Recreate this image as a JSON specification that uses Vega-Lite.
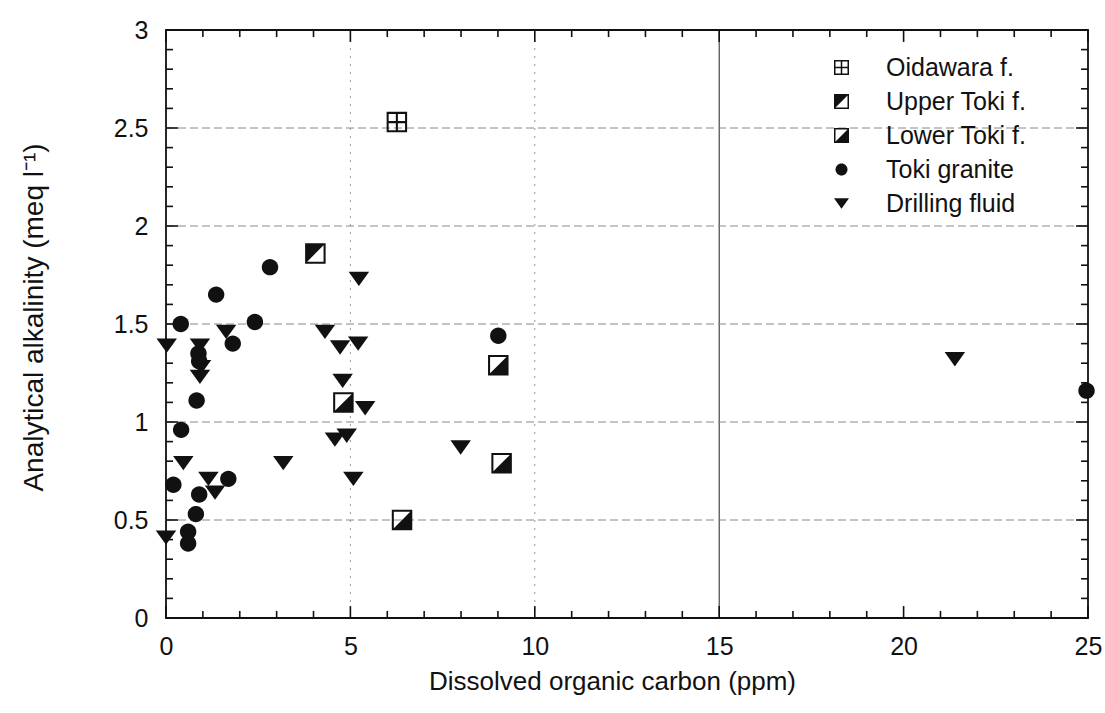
{
  "$schema": "https://vega.github.io/schema/vega-lite/v6.json",
  "width": 922,
  "height": 588,
  "autosize": {"type": "none"},
  "padding": {"left": 166, "top": 30, "right": 17, "bottom": 95},
  "background": "white",
  "config": {
    "view": {"stroke": "#111", "strokeWidth": 1.8},
    "font": "Liberation Sans"
  },
  "datasets": {
    "pts": [
      {"unit": "Oidawara f.", "doc": 6.26, "alk": 2.53},
      {"unit": "Upper Toki f.", "doc": 4.05, "alk": 1.86},
      {"unit": "Lower Toki f.", "doc": 4.81, "alk": 1.10},
      {"unit": "Lower Toki f.", "doc": 9.01, "alk": 1.29},
      {"unit": "Lower Toki f.", "doc": 9.10, "alk": 0.79},
      {"unit": "Lower Toki f.", "doc": 6.40, "alk": 0.50},
      {"unit": "Toki granite", "doc": 2.82, "alk": 1.79},
      {"unit": "Toki granite", "doc": 1.36, "alk": 1.65},
      {"unit": "Toki granite", "doc": 0.40, "alk": 1.50},
      {"unit": "Toki granite", "doc": 2.41, "alk": 1.51},
      {"unit": "Toki granite", "doc": 1.81, "alk": 1.40},
      {"unit": "Toki granite", "doc": 0.88, "alk": 1.35},
      {"unit": "Toki granite", "doc": 0.90, "alk": 1.31},
      {"unit": "Toki granite", "doc": 0.83, "alk": 1.11},
      {"unit": "Toki granite", "doc": 0.41, "alk": 0.96},
      {"unit": "Toki granite", "doc": 1.69, "alk": 0.71},
      {"unit": "Toki granite", "doc": 0.20, "alk": 0.68},
      {"unit": "Toki granite", "doc": 0.90, "alk": 0.63},
      {"unit": "Toki granite", "doc": 0.81, "alk": 0.53},
      {"unit": "Toki granite", "doc": 0.60, "alk": 0.44},
      {"unit": "Toki granite", "doc": 0.60, "alk": 0.38},
      {"unit": "Toki granite", "doc": 9.01, "alk": 1.44},
      {"unit": "Toki granite", "doc": 24.96, "alk": 1.16},
      {"unit": "Drilling fluid", "doc": 5.23, "alk": 1.73},
      {"unit": "Drilling fluid", "doc": 1.63, "alk": 1.46},
      {"unit": "Drilling fluid", "doc": 4.31, "alk": 1.46},
      {"unit": "Drilling fluid", "doc": 4.72, "alk": 1.38},
      {"unit": "Drilling fluid", "doc": 5.21, "alk": 1.40},
      {"unit": "Drilling fluid", "doc": 0.02, "alk": 1.39},
      {"unit": "Drilling fluid", "doc": 0.92, "alk": 1.39},
      {"unit": "Drilling fluid", "doc": 0.95, "alk": 1.28},
      {"unit": "Drilling fluid", "doc": 0.92, "alk": 1.23},
      {"unit": "Drilling fluid", "doc": 4.79, "alk": 1.21},
      {"unit": "Drilling fluid", "doc": 5.40, "alk": 1.07},
      {"unit": "Drilling fluid", "doc": 4.58, "alk": 0.91},
      {"unit": "Drilling fluid", "doc": 4.90, "alk": 0.93},
      {"unit": "Drilling fluid", "doc": 0.47, "alk": 0.79},
      {"unit": "Drilling fluid", "doc": 3.18, "alk": 0.79},
      {"unit": "Drilling fluid", "doc": 1.15, "alk": 0.71},
      {"unit": "Drilling fluid", "doc": 5.08, "alk": 0.71},
      {"unit": "Drilling fluid", "doc": 1.33, "alk": 0.64},
      {"unit": "Drilling fluid", "doc": 0.00, "alk": 0.41},
      {"unit": "Drilling fluid", "doc": 7.99, "alk": 0.87},
      {"unit": "Drilling fluid", "doc": 21.39, "alk": 1.32}
    ],
    "xt": [
      {"v": 0}, {"v": 1}, {"v": 2}, {"v": 3}, {"v": 4}, {"v": 5}, {"v": 6}, {"v": 7}, {"v": 8}, {"v": 9},
      {"v": 10}, {"v": 11}, {"v": 12}, {"v": 13}, {"v": 14}, {"v": 15}, {"v": 16}, {"v": 17}, {"v": 18}, {"v": 19},
      {"v": 20}, {"v": 21}, {"v": 22}, {"v": 23}, {"v": 24}, {"v": 25}
    ],
    "yt": [
      {"v": 0}, {"v": 0.1}, {"v": 0.2}, {"v": 0.3}, {"v": 0.4}, {"v": 0.5}, {"v": 0.6}, {"v": 0.7}, {"v": 0.8}, {"v": 0.9},
      {"v": 1.0}, {"v": 1.1}, {"v": 1.2}, {"v": 1.3}, {"v": 1.4}, {"v": 1.5}, {"v": 1.6}, {"v": 1.7}, {"v": 1.8}, {"v": 1.9},
      {"v": 2.0}, {"v": 2.1}, {"v": 2.2}, {"v": 2.3}, {"v": 2.4}, {"v": 2.5}, {"v": 2.6}, {"v": 2.7}, {"v": 2.8}, {"v": 2.9}, {"v": 3.0}
    ],
    "xg": [{"v": 5}, {"v": 10}, {"v": 15}],
    "yg": [{"v": 0.5}, {"v": 1.0}, {"v": 1.5}, {"v": 2.0}, {"v": 2.5}]
  },
  "layer": [
    {
      "data": {"name": "xg"},
      "transform": [{"filter": "datum.v !== 15"}],
      "mark": {"type": "rule", "strokeWidth": 1, "color": "#999", "strokeDash": [2, 6]},
      "encoding": {"x": {"field": "v", "type": "quantitative"}, "y": {"datum": 0, "type": "quantitative"}, "y2": {"datum": 3}}
    },
    {
      "data": {"name": "xg"},
      "transform": [{"filter": "datum.v === 15"}],
      "mark": {"type": "rule", "strokeWidth": 1, "color": "#222"},
      "encoding": {"x": {"field": "v", "type": "quantitative"}, "y": {"datum": 0, "type": "quantitative"}, "y2": {"datum": 3}}
    },
    {
      "data": {"name": "yg"},
      "mark": {"type": "rule", "strokeWidth": 1, "color": "#888", "strokeDash": [8, 4]},
      "encoding": {"y": {"field": "v", "type": "quantitative"}, "x": {"datum": 0, "type": "quantitative"}, "x2": {"datum": 25}}
    },
    {
      "data": {"name": "xt"},
      "transform": [{"filter": "datum.v % 5 === 0"}],
      "mark": {"type": "rule", "strokeWidth": 1.6, "color": "#111"},
      "encoding": {"x": {"field": "v", "type": "quantitative"}, "y": {"datum": 0, "type": "quantitative"}, "y2": {"datum": 0.061}}
    },
    {
      "data": {"name": "xt"},
      "transform": [{"filter": "datum.v % 5 !== 0"}],
      "mark": {"type": "rule", "strokeWidth": 1.6, "color": "#111"},
      "encoding": {"x": {"field": "v", "type": "quantitative"}, "y": {"datum": 0, "type": "quantitative"}, "y2": {"datum": 0.036}}
    },
    {
      "data": {"name": "xt"},
      "transform": [{"filter": "datum.v % 5 === 0"}],
      "mark": {"type": "rule", "strokeWidth": 1.6, "color": "#111"},
      "encoding": {"x": {"field": "v", "type": "quantitative"}, "y": {"datum": 3, "type": "quantitative"}, "y2": {"datum": 2.939}}
    },
    {
      "data": {"name": "xt"},
      "transform": [{"filter": "datum.v % 5 !== 0"}],
      "mark": {"type": "rule", "strokeWidth": 1.6, "color": "#111"},
      "encoding": {"x": {"field": "v", "type": "quantitative"}, "y": {"datum": 3, "type": "quantitative"}, "y2": {"datum": 2.964}}
    },
    {
      "data": {"name": "yt"},
      "transform": [{"filter": "abs(datum.v * 2 - round(datum.v * 2)) < 0.001"}],
      "mark": {"type": "rule", "strokeWidth": 1.6, "color": "#111"},
      "encoding": {"y": {"field": "v", "type": "quantitative"}, "x": {"datum": 0, "type": "quantitative"}, "x2": {"datum": 0.325}}
    },
    {
      "data": {"name": "yt"},
      "transform": [{"filter": "abs(datum.v * 2 - round(datum.v * 2)) >= 0.001"}],
      "mark": {"type": "rule", "strokeWidth": 1.6, "color": "#111"},
      "encoding": {"y": {"field": "v", "type": "quantitative"}, "x": {"datum": 0, "type": "quantitative"}, "x2": {"datum": 0.19}}
    },
    {
      "data": {"name": "yt"},
      "transform": [{"filter": "abs(datum.v * 2 - round(datum.v * 2)) < 0.001"}],
      "mark": {"type": "rule", "strokeWidth": 1.6, "color": "#111"},
      "encoding": {"y": {"field": "v", "type": "quantitative"}, "x": {"datum": 25, "type": "quantitative"}, "x2": {"datum": 24.675}}
    },
    {
      "data": {"name": "yt"},
      "transform": [{"filter": "abs(datum.v * 2 - round(datum.v * 2)) >= 0.001"}],
      "mark": {"type": "rule", "strokeWidth": 1.6, "color": "#111"},
      "encoding": {"y": {"field": "v", "type": "quantitative"}, "x": {"datum": 25, "type": "quantitative"}, "x2": {"datum": 24.81}}
    },
    {
      "data": {"name": "pts"},
      "mark": {"type": "point", "filled": true, "size": 420, "color": "#111", "opacity": 1, "strokeWidth": 0},
      "encoding": {
        "x": {
          "field": "doc", "type": "quantitative",
          "scale": {"domain": [0, 25], "nice": false, "zero": false},
          "axis": {
            "orient": "bottom", "values": [0, 5, 10, 15, 20, 25], "ticks": false, "domain": false, "grid": false, "labelFlush": false,
            "labelPadding": 16, "labelFontSize": 25, "labelFont": "Liberation Sans", "labelColor": "#111",
            "title": "Dissolved organic carbon (ppm)", "titleFont": "Liberation Sans", "titleFontWeight": "normal", "titleColor": "#111",
            "titleFontSize": 26, "titleX": 446, "titleY": 63, "titleBaseline": "middle"
          }
        },
        "y": {
          "field": "alk", "type": "quantitative",
          "scale": {"domain": [0, 3], "nice": false, "zero": false},
          "axis": {
            "orient": "left", "values": [0, 0.5, 1, 1.5, 2, 2.5, 3], "format": "~g", "ticks": false, "domain": false, "grid": false, "labelFlush": false,
            "labelPadding": 18, "labelFontSize": 25, "labelFont": "Liberation Sans", "labelColor": "#111",
            "title": "Analytical alkalinity (meq l⁻¹)", "titleFont": "Liberation Sans", "titleFontWeight": "normal", "titleColor": "#111",
            "titleFontSize": 28, "titleX": -132, "titleY": 287, "titleBaseline": "middle", "titleAngle": -90
          }
        },
        "shape": {
          "field": "unit", "type": "nominal",
          "scale": {
            "domain": ["Oidawara f.", "Upper Toki f.", "Lower Toki f.", "Toki granite", "Drilling fluid"],
            "range": [
              "M-1,-1H1V1H-1Z M-0.8,-0.8V0.8H0.8V-0.8Z M-0.1,-0.8H0.1V0.8H-0.1Z M-0.8,-0.1H0.8V0.1H-0.8Z",
              "M-1,-1H1V1H-1Z M-0.8,-0.8V0.8H0.8V-0.8Z M-0.8,-0.8H0.8L-0.8,0.8Z",
              "M-1,-1H1V1H-1Z M-0.8,-0.8V0.8H0.8V-0.8Z M0.8,-0.8V0.8H-0.8Z",
              "M0.8,0A0.8,0.8,0,1,1,-0.8,0A0.8,0.8,0,1,1,0.8,0Z",
              "M-1,-0.7H1L0,0.7Z"
            ]
          },
          "legend": {
            "orient": "none", "legendX": 663, "legendY": 25, "title": null, "symbolSize": 225,
            "labelFontSize": 25, "labelFont": "Liberation Sans", "labelColor": "#111", "labelOffset": 32,
            "rowPadding": 8, "padding": 0, "labelLimit": 300, "symbolFillColor": "#111", "symbolStrokeWidth": 0
          }
        }
      }
    }
  ]
}
